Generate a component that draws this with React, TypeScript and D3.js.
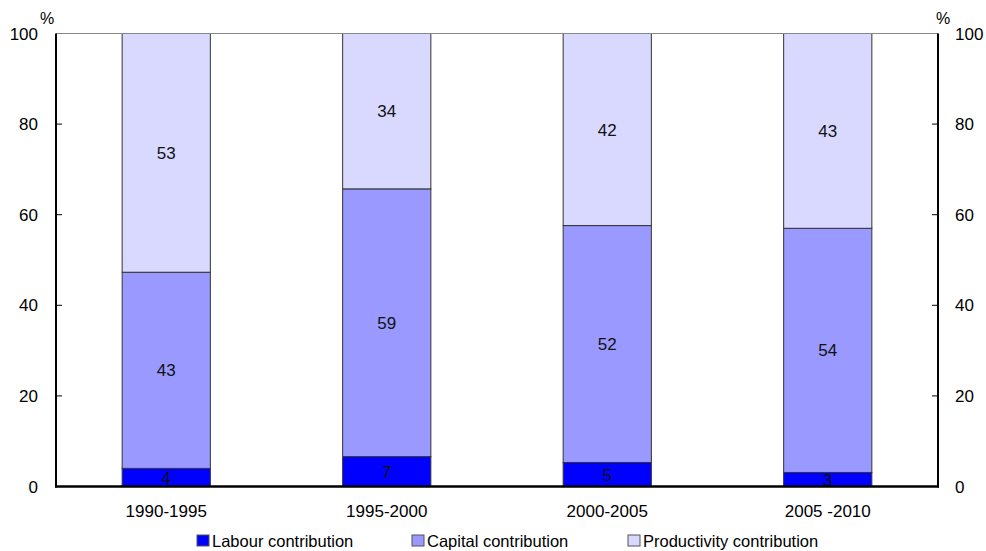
import React from "react";
import * as d3 from "d3";

// Contribution to growth, by period (%)
const periods = ["1990-1995", "1995-2000", "2000-2005", "2005 -2010"];
const labour = [4.0, 6.6, 5.3, 3.1];
const capital = [43.3, 59.1, 52.3, 53.9];
const productivity = [52.7, 34.3, 42.4, 43.0];
const seriesNames = ["Labour contribution", "Capital contribution", "Productivity contribution"];
const seriesColors = ["#0000FF", "#9999FF", "#D9D9FF"];
const yTicks = [0, 20, 40, 60, 80, 100];

const W = 986;
const H = 551;
const M = { left: 56, right: 48, top: 33.5, bottom: 64.5 };
const FONT = "'Liberation Sans', Arial, sans-serif";

export default function App() {
  const x = d3
    .scaleBand<string>()
    .domain(periods)
    .range([M.left, W - M.right])
    .paddingInner(0.6)
    .paddingOuter(0.3);
  const y = d3.scaleLinear().domain([0, 100]).range([H - M.bottom, M.top]);

  const rows = periods.map((p, i) => ({
    period: p,
    labour: labour[i],
    capital: capital[i],
    productivity: productivity[i],
  }));
  const keys = ["labour", "capital", "productivity"];
  const stacked = d3.stack<any>().keys(keys)(rows);

  const x0 = M.left;
  const x1 = W - M.right;
  const y0 = y(0);
  const yTop = y(100);

  const legendX = [197, 412, 628];

  return (
    <svg
      width={W}
      height={H}
      style={{ position: "absolute", left: 0, top: 0, background: "#fff" }}
      fontFamily={FONT}
    >
      {/* bars */}
      {stacked.map((layer, li) => (
        <g key={keys[li]}>
          {layer.map((d, i) => {
            const bx = x(periods[i])!;
            const top = y(d[1]);
            const bot = y(d[0]);
            return (
              <rect
                key={i}
                x={bx}
                y={top}
                width={x.bandwidth()}
                height={bot - top}
                fill={seriesColors[li]}
                stroke="#333"
                strokeWidth={1}
              />
            );
          })}
        </g>
      ))}

      {/* value labels */}
      {stacked.map((layer, li) =>
        layer.map((d, i) => (
          <text
            key={`${li}-${i}`}
            x={x(periods[i])! + x.bandwidth() / 2}
            y={(y(d[0]) + y(d[1])) / 2}
            dy="0.36em"
            textAnchor="middle"
            fontSize={17}
            fill="#111"
          >
            {Math.round(d[1] - d[0])}
          </text>
        ))
      )}

      {/* frame */}
      <line x1={x0} x2={x1} y1={yTop} y2={yTop} stroke="#888" strokeWidth={1} />
      <line x1={x0} x2={x0} y1={yTop} y2={y0 + 1} stroke="#000" strokeWidth={2} />
      <line x1={x1} x2={x1} y1={yTop} y2={y0 + 1} stroke="#000" strokeWidth={2} />
      <line x1={x0 - 1} x2={x1 + 1} y1={y0} y2={y0} stroke="#000" strokeWidth={2.5} />

      {/* y ticks, both sides */}
      {yTicks.map((t) => (
        <g key={t}>
          {t > 0 && t < 100 && (
            <>
              <line x1={x0} x2={x0 + 6} y1={y(t)} y2={y(t)} stroke="#000" strokeWidth={1} />
              <line x1={x1 - 6} x2={x1} y1={y(t)} y2={y(t)} stroke="#000" strokeWidth={1} />
            </>
          )}
          <text x={38} y={y(t)} dy="0.36em" textAnchor="end" fontSize={17} fill="#000">
            {t}
          </text>
          <text x={955} y={y(t)} dy="0.36em" textAnchor="start" fontSize={17} fill="#000">
            {t}
          </text>
        </g>
      ))}
      <text x={40} y={24} fontSize={16} fill="#000">%</text>
      <text x={936} y={24} fontSize={16} fill="#000">%</text>

      {/* x labels */}
      {periods.map((p) => (
        <text
          key={p}
          x={x(p)! + x.bandwidth() / 2}
          y={517}
          textAnchor="middle"
          fontSize={17}
          fill="#000"
        >
          {p}
        </text>
      ))}

      {/* legend */}
      {seriesNames.map((n, i) => (
        <g key={n}>
          <rect
            x={legendX[i]}
            y={535}
            width={12}
            height={11}
            fill={seriesColors[i]}
            stroke="#555"
            strokeWidth={1}
          />
          <text x={legendX[i] + 15} y={546.5} fontSize={16.5} fill="#000">
            {n}
          </text>
        </g>
      ))}
    </svg>
  );
}
